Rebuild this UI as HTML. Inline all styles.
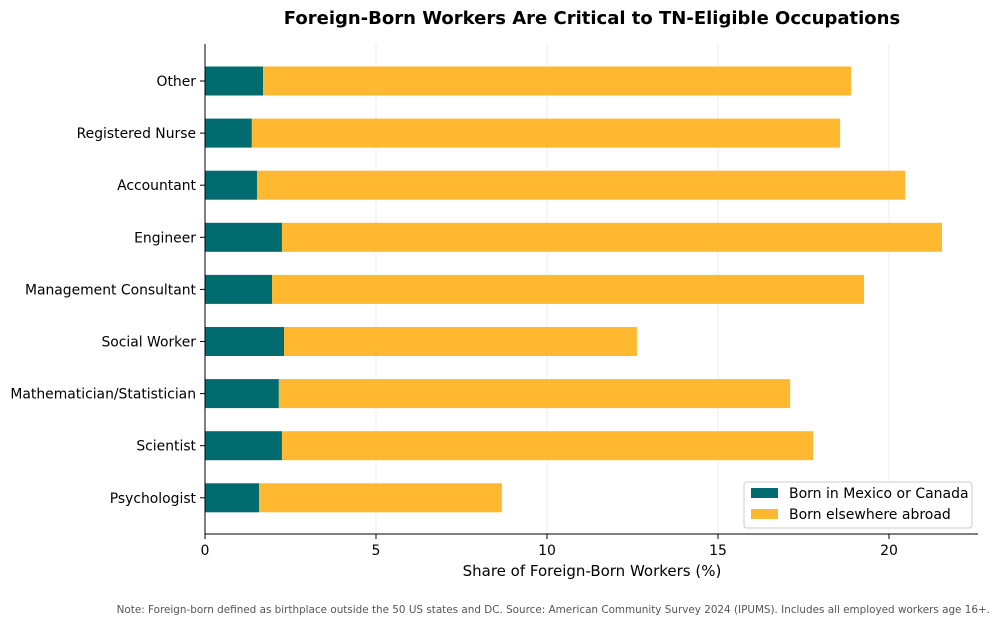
<!DOCTYPE html>
<html><head><meta charset="utf-8"><style>
body{margin:0;background:#fff;font-family:"Liberation Sans","DejaVu Sans",sans-serif;}
svg text{font-family:"DejaVu Sans","Liberation Sans",sans-serif;}
</style></head><body>
<svg id="chart" width="1000" height="626" xmlns="http://www.w3.org/2000/svg">
<text x="592" y="24" text-anchor="middle" font-size="18" font-weight="bold">Foreign-Born Workers Are Critical to TN-Eligible Occupations</text>
<g id="grid"></g><g id="bars"></g><g id="axes"></g>
<text x="592" y="576" text-anchor="middle" font-size="15">Share of Foreign-Born Workers (%)</text>
<text x="990" y="613" text-anchor="end" font-size="10.4" fill="#555">Note: Foreign-born defined as birthplace outside the 50 US states and DC. Source: American Community Survey 2024 (IPUMS). Includes all employed workers age 16+.</text>
<g>
<rect x="744" y="482" width="228" height="46" fill="#fff" stroke="#ccc" rx="3"/>
<rect x="751" y="488" width="27" height="10" fill="#006b6e"/>
<text x="789" y="498" font-size="14">Born in Mexico or Canada</text>
<rect x="751" y="509" width="27" height="10" fill="#ffb830"/>
<text x="789" y="519" font-size="14">Born elsewhere abroad</text>
</g>
</svg>
<script>
const categories=["Other","Registered Nurse","Accountant","Engineer","Management Consultant","Social Worker","Mathematician/Statistician","Scientist","Psychologist"];
const mexicoCanada=[1.70,1.37,1.52,2.25,1.96,2.31,2.16,2.25,1.58];
const elsewhere=[17.19,17.20,18.95,19.30,17.31,10.32,14.95,15.53,7.10];
const xTicks=[0,5,10,15,20];
const NS="http://www.w3.org/2000/svg";
const x=v=>205+v*34.2;
const y=i=>81+i*52.1;
function mk(t,a,p){const e=document.createElementNS(NS,t);for(const k in a)e.setAttribute(k,a[k]);p.appendChild(e);return e;}
const grid=document.getElementById('grid'),bars=document.getElementById('bars'),axes=document.getElementById('axes');
xTicks.forEach(t=>{
 const g=mk('line',{x1:x(t),x2:x(t),y1:44,y2:534,stroke:'#eee'},grid);
 
 
 const tk=mk('line',{x1:x(t),x2:x(t),y1:534,y2:539,stroke:'#000'},axes);
 
 
 const tl=mk('text',{x:x(t),y:555,'text-anchor':'middle','font-size':14},axes);tl.textContent=t;
 
 
});
categories.forEach((c,i)=>{
 const a=mk('rect',{x:x(0),y:y(i)-14.5,width:x(mexicoCanada[i])-x(0),height:29,fill:'#006b6e'},bars);
 
 
 const b=mk('rect',{x:x(mexicoCanada[i]),y:y(i)-14.5,width:x(mexicoCanada[i]+elsewhere[i])-x(mexicoCanada[i]),height:29,fill:'#ffb830'},bars);
 
 
 const tk=mk('line',{x1:200,x2:205,y1:y(i),y2:y(i),stroke:'#000'},axes);
 
 
 const l=mk('text',{x:196,y:y(i)+5,'text-anchor':'end','font-size':13.9},axes);l.textContent=c;
 
 
});
const ya=mk('line',{x1:205,x2:205,y1:44,y2:534,stroke:'#000'},axes);


const xa=mk('line',{x1:205,x2:978,y1:534,y2:534,stroke:'#000'},axes);


</script>
</body></html>
